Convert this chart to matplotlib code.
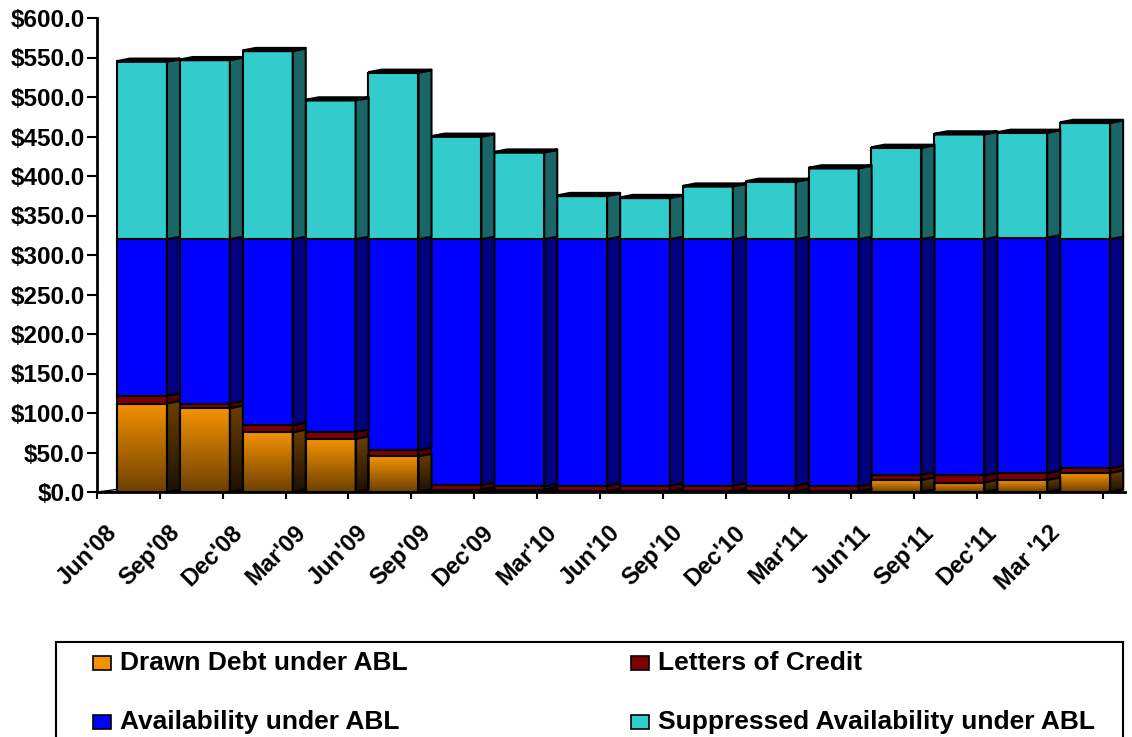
import numpy as np
import matplotlib
matplotlib.use('Agg')
import matplotlib.pyplot as plt
from matplotlib.patches import Polygon, Rectangle
from matplotlib.colors import LinearSegmentedColormap
from matplotlib.transforms import ScaledTranslation

plt.rcParams['font.family'] = ['Liberation Sans', 'DejaVu Sans']
plt.rcParams['font.weight'] = 'bold'

# Data (values in $M)
quarters = ["Jun'08", "Sep'08", "Dec'08", "Mar'09", "Jun'09", "Sep'09", "Dec'09", "Mar'10",
            "Jun'10", "Sep'10", "Dec'10", "Mar'11", "Jun'11", "Sep'11", "Dec'11", "Mar '12"]
drawn_debt = [112, 106, 75.5, 67, 45, 3, 3, 1, 1, 1, 1, 1, 15, 12, 15, 24]
letters_of_credit = [10, 6, 9, 9, 8, 6, 4, 7, 7, 7, 7, 6, 7, 9, 9, 6]
availability = [198, 208, 235.5, 244, 267, 311, 313, 312, 312, 312, 312, 313, 298, 299, 298, 290]
suppressed = [225, 227, 238.5, 176, 211, 130, 110, 55, 52.5, 67, 73, 90, 116, 133, 133, 147.5]

series_names = ['Drawn Debt under ABL', 'Letters of Credit',
                'Availability under ABL', 'Suppressed Availability under ABL']
front_colors = ['#F39200', '#800000', '#0000FF', '#33CCCC']
side_colors = ['#6B3E00', '#550000', '#000080', '#1A6666']

W, H = 1132, 737
fig = plt.figure(figsize=(W / 100, H / 100), dpi=100)
ax = fig.add_axes([97 / W, 1 - 492 / H, (1125 - 97) / W, (492 - 18) / H])

# fake 3d geometry (category units / value units)
x_off = 0.318
bar_w = 0.795
dx = 0.207
dy = 3.2


def gradient_fill(ax, clip_patch, xs, ys, c_top, c_bot, z):
    """orange gradient clipped to a patch"""
    cmap = LinearSegmentedColormap.from_list('g', [c_bot, c_top])
    g = np.linspace(0, 1, 64).reshape(-1, 1)
    im = ax.imshow(g, cmap=cmap, extent=[min(xs), max(xs), min(ys), max(ys)],
                   origin='lower', aspect='auto', interpolation='bilinear', zorder=z)
    im.set_clip_path(clip_patch)
    return im


# floor
ax.add_patch(Polygon([(0, 0), (16, 0), (16 + x_off, dy), (x_off, dy)], closed=True,
                     facecolor='white', edgecolor='black', lw=1, zorder=1))

data = [drawn_debt, letters_of_credit, availability, suppressed]
x = np.arange(len(quarters)) + x_off
bottoms = np.zeros(len(quarters))

for s, vals in enumerate(data):
    vals = np.array(vals, dtype=float)
    bars = ax.bar(x, vals, bar_w, bottom=bottoms, align='edge', color=front_colors[s],
                  edgecolor='black', linewidth=1.5, label=series_names[s], zorder=2)
    for i, b in enumerate(bars):
        b0 = bottoms[i]
        b1 = bottoms[i] + vals[i]
        xr = x[i] + bar_w
        side = Polygon([(xr, b0), (xr + dx, b0 + dy), (xr + dx, b1 + dy), (xr, b1)],
                       closed=True, facecolor=side_colors[s], edgecolor='black',
                       lw=1.5, zorder=2)
        ax.add_patch(side)
        if s == 0:
            # gradient on the orange faces
            gradient_fill(ax, b, [x[i], xr], [b0, b1], '#F39200', '#6E4000', 2.2)
            gradient_fill(ax, side, [xr, xr + dx], [b0, b1 + dy], '#6B3E00', '#1E1000', 2.2)
            ax.add_patch(Rectangle((x[i], b0), bar_w, vals[i], fill=False,
                                   edgecolor='black', lw=1.5, zorder=2.4))
            ax.add_patch(Polygon([(xr, b0), (xr + dx, b0 + dy), (xr + dx, b1 + dy), (xr, b1)],
                                 closed=True, fill=False, edgecolor='black', lw=1.5, zorder=2.4))
        if s == len(data) - 1:
            top = Polygon([(x[i], b1), (x[i] + dx, b1 + dy), (xr + dx, b1 + dy), (xr, b1)],
                          closed=True, facecolor=side_colors[s], edgecolor='black',
                          lw=2, zorder=2)
            ax.add_patch(top)
    bottoms = bottoms + vals

ax.set_xlim(0, 16 + 0.35)
ax.set_ylim(0, 600)

# y axis
yt = np.arange(0, 601, 50)
ax.set_yticks(yt)
ax.set_yticklabels(['$%.1f' % v for v in yt])
ax.tick_params(axis='y', direction='out', length=7, width=1.5, labelsize=17.5, pad=2)

# x axis: ticks at category boundaries
ax.set_xticks(np.arange(0, 17))
ax.set_xticklabels(quarters + [''])
ax.tick_params(axis='x', direction='out', length=5, width=1.5, labelsize=17, pad=16)
offset = ScaledTranslation(8 / 100, 0, fig.dpi_scale_trans)
for lab in ax.get_xticklabels():
    lab.set_rotation(45)
    lab.set_ha('right')
    lab.set_va('top')
    lab.set_rotation_mode('anchor')
    lab.set_transform(lab.get_transform() + offset)

for sp in ['top', 'right']:
    ax.spines[sp].set_visible(False)
ax.spines['left'].set_linewidth(2)
ax.spines['bottom'].set_linewidth(2)


# legend drawn by hand (box runs off the bottom edge)
def fx(px):
    return px / W


def fy(py):
    return 1 - py / H


fig.patches.append(Rectangle((fx(56), fy(760)), fx(1123) - fx(56), fy(642) - fy(760),
                             transform=fig.transFigure, fill=False, edgecolor='black',
                             lw=1.5, clip_on=False))
leg_cols = [93, 631]
leg_rows = [663, 722]
for k, name in enumerate(series_names):
    cx = leg_cols[k % 2]
    cy = leg_rows[k // 2]
    fig.patches.append(Rectangle((fx(cx), fy(cy + 7)), fx(18), fy(cy - 7) - fy(cy + 7),
                                 transform=fig.transFigure, facecolor=front_colors[k],
                                 edgecolor='black', lw=1.2))
    fig.text(fx(cx + 27), fy(cy), name, fontsize=19, fontweight='bold',
             ha='left', va='center')

fig.savefig('out.png', dpi=100)
